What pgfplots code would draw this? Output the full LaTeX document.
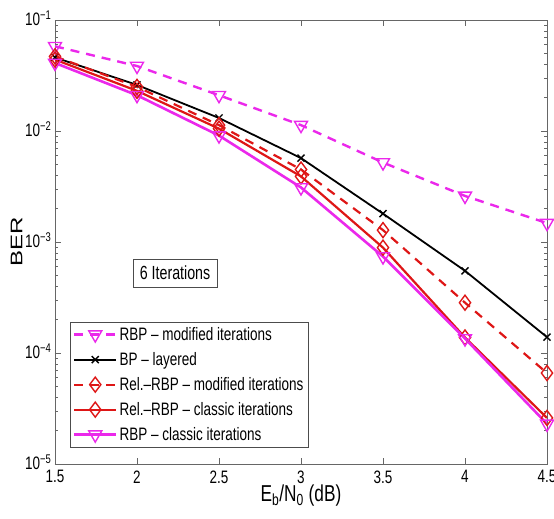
\documentclass[border=0pt]{standalone}
\usepackage{pgfplots}
\pgfplotsset{compat=1.18}
\usepackage{graphicx}
\usepackage{fontspec}
\setmainfont{Liberation Sans}[FakeStretch=0.75]
\newfontfamily\plainfont{Liberation Sans}
\definecolor{mag}{RGB}{235,40,235}
\definecolor{rd}{RGB}{222,22,22}
\begin{document}
\begin{tikzpicture}
\begin{axis}[
  scale only axis,
  width=492bp, height=444bp,
  ymode=log,
  xmin=1.5, xmax=4.5, ymin=1e-5, ymax=1e-1,
  xtick={1.5,2,2.5,3,3.5,4,4.5},
  ytick={1e-5,1e-4,1e-3,1e-2,1e-1},
  yticklabels={10\textsuperscript{−5},10\textsuperscript{−4},10\textsuperscript{−3},10\textsuperscript{−2},10\textsuperscript{−1}},
  /pgf/number format/assume math mode=true,
  tick label style={font=\fontsize{18bp}{20bp}\selectfont},
  xticklabel style={yshift=-3bp},
  yticklabel style={yshift=2bp},
  tick align=inside,
  major tick length=6bp, minor tick length=3.5bp,
  axis line style={gray!80!black},
  every tick/.style={gray!80!black},
  xlabel={E\textsubscript{b}/N\textsubscript{0} (dB)},
  ylabel={\scalebox{1}[0.7]{\plainfont BER}},
  xlabel style={font=\fontsize{23bp}{24bp}\selectfont, yshift=5bp},
  ylabel style={font=\fontsize{24bp}{24bp}\selectfont, yshift=-4bp},
  legend style={at={(0.03,0.038)}, anchor=south west, draw=black!70,
    font=\fontsize{18bp}{20bp}\selectfont, row sep=6.5bp, inner sep=3bp},
  legend cell align=left,
  legend image code/.code={\draw[mark repeat=2,mark phase=2] plot coordinates {(0bp,0bp)(21bp,0bp)(42bp,0bp)};},
]
\addplot[mag, line width=2.4bp, dash pattern=on 9bp off 7bp, mark=triangle, mark size=7.5bp, mark options={solid, line width=1.4bp, rotate=180}]
coordinates {(1.5,0.058)(2,0.0385)(2.5,0.021)(3,0.0113)(3.5,0.0052)(4,0.0026)(4.5,0.00148)};
\addlegendentry{RBP – modified iterations}
\addplot[black, line width=1.8bp, mark=x, mark size=5bp, mark options={line width=1.4bp}]
coordinates {(1.5,0.046)(2,0.026)(2.5,0.0131)(3,0.0057)(3.5,0.0018)(4,0.00055)(4.5,0.000139)};
\addlegendentry{BP – layered}
\addplot[rd, line width=2.2bp, dash pattern=on 9bp off 7bp, mark=diamond, mark size=7.5bp, mark options={solid, line width=1.4bp}]
coordinates {(1.5,0.047)(2,0.025)(2.5,0.0113)(3,0.0045)(3.5,0.00128)(4,0.000284)(4.5,0.000066)};
\addlegendentry{Rel.–RBP – modified iterations}
\addplot[rd, line width=2.2bp, mark=diamond, mark size=7.5bp, mark options={solid, line width=1.4bp}]
coordinates {(1.5,0.044)(2,0.023)(2.5,0.0105)(3,0.0039)(3.5,0.00089)(4,0.000138)(4.5,0.000026)};
\addlegendentry{Rel.–RBP – classic iterations}
\addplot[mag, line width=2.6bp, mark=triangle, mark size=7.5bp, mark options={solid, line width=1.4bp, rotate=180}]
coordinates {(1.5,0.041)(2,0.021)(2.5,0.0091)(3,0.0031)(3.5,0.00074)(4,0.000135)(4.5,0.000023)};
\addlegendentry{RBP – classic iterations}
\node[draw=black!70, fill=white, font=\fontsize{19bp}{21bp}\selectfont, inner sep=7bp] at (axis description cs:0.244,0.43) {6 Iterations};
\end{axis}
\pgfresetboundingbox
\path[use as bounding box] ([xshift=-55bp,yshift=-55bp]current axis.south west) rectangle ([xshift=7bp,yshift=20bp]current axis.north east);
\end{tikzpicture}
\end{document}
